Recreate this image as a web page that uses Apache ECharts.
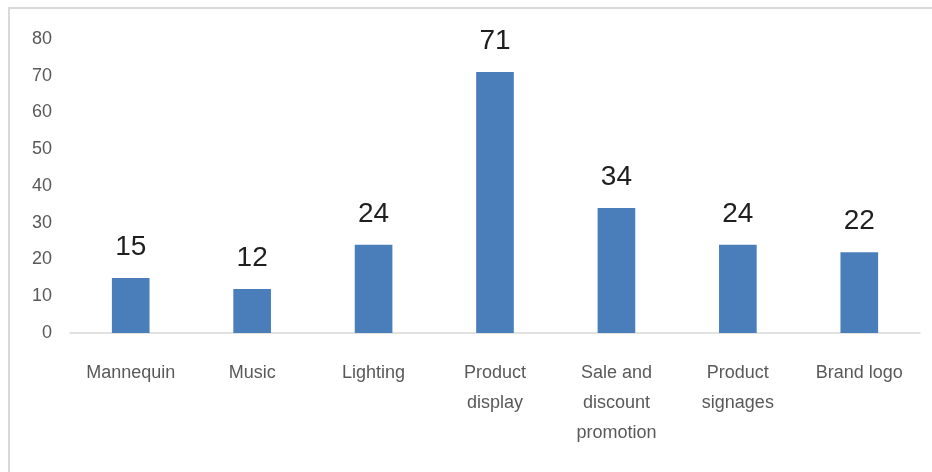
<!DOCTYPE html>
<html>
<head>
<meta charset="utf-8">
<script src="https://cdn.jsdelivr.net/npm/echarts@6/dist/echarts.min.js"></script>
<style>
  html, body { margin: 0; padding: 0; background: #ffffff; }
  #chart { width: 932px; height: 472px; }
</style>
</head>
<body>
<div id="chart"></div>
<script>
// Store elements that draw attention, with counts per element
const categories = ['Mannequin', 'Music', 'Lighting', 'Product\ndisplay', 'Sale and\ndiscount\npromotion', 'Product\nsignages', 'Brand logo'];
const counts = [15, 12, 24, 71, 34, 24, 22];
const yTicks = [0, 10, 20, 30, 40, 50, 60, 70, 80];

const FONT = '"Liberation Sans", Arial, sans-serif';

const chart = echarts.init(document.getElementById('chart'), null, { renderer: 'canvas' });

chart.setOption({
  animation: false,
  backgroundColor: '#ffffff',
  graphic: [{
    type: 'rect',
    shape: { x: 9, y: 8, width: 940, height: 480 },
    style: { fill: 'none', stroke: '#d9d9d9', lineWidth: 2 },
    silent: true
  }],
  grid: { left: 70, right: 12, top: 39, bottom: 139, containLabel: false },
  xAxis: {
    type: 'category',
    data: categories,
    axisLine: { show: true, lineStyle: { color: '#d9d9d9', width: 1.5 } },
    axisTick: { show: false },
    axisLabel: {
      color: '#595959',
      fontFamily: FONT,
      fontSize: 18,
      lineHeight: 30,
      margin: 25,
      interval: 0
    }
  },
  yAxis: {
    type: 'value',
    min: yTicks[0],
    max: yTicks[yTicks.length - 1],
    interval: 10,
    splitLine: { show: false },
    axisLine: { show: false },
    axisTick: { show: false },
    axisLabel: {
      color: '#595959',
      fontFamily: FONT,
      fontSize: 18,
      margin: 18
    }
  },
  series: [{
    type: 'bar',
    data: counts,
    barWidth: '31%',
    itemStyle: { color: '#4a7ebb' },
    label: {
      show: true,
      position: 'top',
      distance: 17,
      color: '#1f1f1f',
      fontFamily: FONT,
      fontSize: 28
    }
  }]
});
</script>
</body>
</html>
